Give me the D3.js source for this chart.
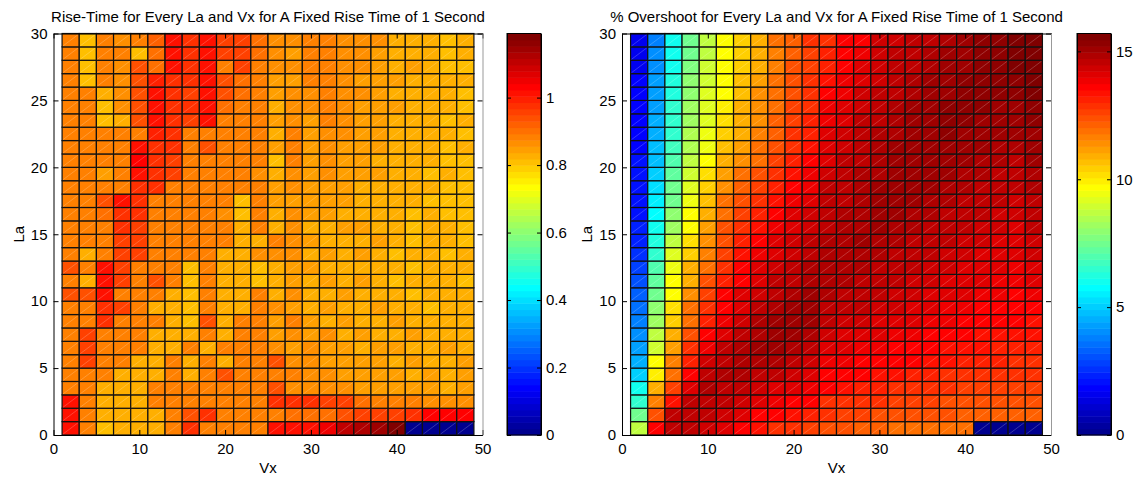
<!DOCTYPE html>
<html>
<head>
<meta charset="utf-8">
<script src="https://cdn.jsdelivr.net/npm/d3@7"></script>
<style>
  body { margin: 0; background: #fff; }
  text { font-family: "Liberation Sans", Arial, Helvetica, sans-serif; }
</style>
</head>
<body>
<div id="wrapper"></div>
<script>
// 1. Data

// cell edges of the pcolor grid
const vxEdges = [1, 3, 5, 7, 9, 11, 13, 15, 17, 19, 21, 23, 25, 27, 29, 31, 33, 35, 37, 39, 41, 43, 45, 47, 49];
const laEdges = [0, 1, 2, 3, 4, 5, 6, 7, 8, 9, 10, 11, 12, 13, 14, 15, 16, 17, 18, 19, 20, 21, 22, 23, 24, 25, 26, 27, 28, 29, 30];

const xTicks = [0, 10, 20, 30, 40, 50];
const yTicks = [0, 5, 10, 15, 20, 25, 30];
const riseTicks = [0, 0.2, 0.4, 0.6, 0.8, 1];
const overshootTicks = [0, 5, 10, 15];

const riseTitle = "Rise-Time for Every La and Vx for A Fixed Rise Time of 1 Second";
const overshootTitle = "% Overshoot for Every La and Vx for A Fixed Rise Time of 1 Second";

// rise time, one row per La cell (La 0 at the bottom), 24 Vx cells each
const riseTime = [
  [1.02,0.89,0.80,0.83,0.83,0.83,0.88,0.97,0.88,0.88,0.88,0.88,1.02,1.01,1.02,1.05,1.10,1.13,1.15,1.19,0,0,0,0],
  [1.02,0.89,0.83,0.83,0.83,0.83,0.88,0.94,0.97,0.88,0.88,0.88,0.89,0.90,0.90,0.91,0.93,0.95,0.95,0.96,0.97,1.03,1.03,1.03],
  [1.02,0.89,0.83,0.83,0.83,0.88,0.88,0.88,0.88,0.88,0.88,0.88,0.97,0.97,0.97,0.96,0.96,0.90,0.89,0.88,0.88,0.87,0.87,0.87],
  [0.89,0.89,0.83,0.83,0.83,0.88,0.88,0.88,0.88,0.88,0.88,0.88,0.94,0.87,0.86,0.87,0.86,0.85,0.85,0.84,0.85,0.84,0.83,0.84],
  [0.89,0.89,0.89,0.83,0.83,0.83,0.88,0.83,0.88,0.94,0.88,0.88,0.88,0.88,0.87,0.86,0.85,0.85,0.84,0.84,0.83,0.84,0.83,0.84],
  [0.89,0.95,0.89,0.89,0.83,0.83,0.88,0.83,0.88,0.83,0.88,0.88,0.94,0.87,0.86,0.85,0.85,0.84,0.84,0.83,0.84,0.83,0.83,0.84],
  [0.89,0.95,0.89,0.89,0.88,0.83,0.83,0.88,0.83,0.88,0.88,0.88,0.86,0.85,0.86,0.84,0.85,0.83,0.84,0.84,0.83,0.83,0.84,0.82],
  [0.89,0.95,0.89,0.89,0.88,0.83,0.83,0.83,0.88,0.83,0.88,0.88,0.85,0.86,0.85,0.86,0.83,0.84,0.83,0.83,0.84,0.82,0.83,0.82],
  [0.89,0.89,0.98,0.89,0.88,0.88,0.83,0.80,0.94,0.83,0.88,0.88,0.84,0.88,0.84,0.83,0.85,0.83,0.82,0.84,0.83,0.82,0.82,0.83],
  [0.89,0.89,0.98,0.95,0.88,0.83,0.83,0.80,0.88,0.83,0.83,0.88,0.86,0.84,0.83,0.85,0.83,0.82,0.84,0.82,0.83,0.81,0.83,0.82],
  [0.94,0.94,1.01,0.89,0.88,0.88,0.83,0.80,0.88,0.83,0.83,0.88,0.83,0.87,0.83,0.83,0.85,0.83,0.82,0.83,0.81,0.83,0.82,0.82],
  [0.89,0.83,1.01,0.95,0.88,0.94,0.88,0.80,0.88,0.83,0.83,0.80,0.83,0.84,0.83,0.85,0.82,0.84,0.82,0.81,0.83,0.82,0.82,0.81],
  [0.94,0.88,1.01,0.95,0.88,0.88,0.88,0.80,0.88,0.83,0.83,0.80,0.83,0.84,0.85,0.83,0.83,0.82,0.83,0.83,0.81,0.82,0.82,0.82],
  [0.89,0.83,0.89,0.95,0.95,0.88,0.88,0.88,0.88,0.83,0.83,0.86,0.86,0.86,0.83,0.84,0.82,0.84,0.82,0.81,0.83,0.82,0.80,0.82],
  [0.89,0.88,0.89,0.95,0.95,0.88,0.88,0.88,0.88,0.88,0.83,0.83,0.88,0.86,0.85,0.83,0.83,0.82,0.84,0.83,0.81,0.82,0.82,0.81],
  [0.89,0.88,0.89,0.98,0.95,0.88,0.88,0.88,0.88,0.88,0.83,0.88,0.83,0.86,0.82,0.83,0.85,0.84,0.82,0.83,0.81,0.83,0.82,0.81],
  [0.89,0.88,0.90,0.98,0.97,0.89,0.88,0.88,0.88,0.87,0.80,0.88,0.83,0.86,0.84,0.84,0.83,0.83,0.82,0.82,0.81,0.82,0.80,0.81],
  [0.89,0.88,0.94,1.02,0.97,0.89,0.88,0.88,0.88,0.88,0.80,0.88,0.84,0.85,0.85,0.84,0.84,0.83,0.82,0.83,0.82,0.81,0.81,0.80],
  [0.89,0.88,0.88,0.88,0.97,0.97,0.89,0.88,0.88,0.88,0.88,0.88,0.85,0.86,0.85,0.85,0.84,0.83,0.83,0.83,0.82,0.82,0.81,0.81],
  [0.89,0.88,0.84,0.88,1.02,0.97,0.95,0.88,0.88,0.88,0.88,0.87,0.83,0.87,0.84,0.86,0.85,0.84,0.84,0.83,0.82,0.81,0.82,0.81],
  [0.89,0.88,0.88,0.88,1.03,0.97,0.95,0.89,0.88,0.89,0.88,0.88,0.80,0.89,0.85,0.86,0.85,0.84,0.83,0.82,0.82,0.82,0.81,0.81],
  [0.89,0.88,0.88,0.88,1.02,0.97,0.97,0.89,0.94,0.89,0.88,0.88,0.84,0.89,0.84,0.87,0.85,0.84,0.84,0.83,0.82,0.82,0.81,0.82],
  [0.88,0.88,0.88,0.88,0.89,1.00,0.97,0.89,0.89,0.89,0.89,0.88,0.83,0.89,0.85,0.87,0.86,0.84,0.85,0.83,0.83,0.82,0.82,0.81],
  [0.88,0.88,0.81,0.83,0.94,1.01,0.97,0.95,1.01,0.89,0.89,0.88,0.84,0.87,0.85,0.88,0.86,0.85,0.84,0.83,0.82,0.82,0.81,0.82],
  [0.88,0.88,0.81,0.87,0.94,1.01,0.97,0.97,1.01,0.90,0.89,0.89,0.83,0.86,0.86,0.88,0.87,0.85,0.84,0.84,0.83,0.82,0.82,0.81],
  [0.88,0.88,0.83,0.87,0.94,1.01,0.97,0.95,1.01,0.94,0.90,0.89,0.85,0.86,0.87,0.88,0.86,0.86,0.84,0.83,0.83,0.83,0.82,0.81],
  [0.88,0.80,0.88,0.87,0.94,1.00,0.97,0.97,1.02,0.94,0.90,0.89,0.85,0.85,0.88,0.89,0.87,0.85,0.85,0.84,0.83,0.82,0.82,0.82],
  [0.88,0.80,0.89,0.87,0.94,0.90,1.01,0.97,1.02,0.89,0.95,0.89,0.86,0.86,0.88,0.89,0.86,0.86,0.84,0.83,0.84,0.82,0.81,0.81],
  [0.88,0.80,0.88,0.88,0.81,0.90,1.02,0.97,1.02,0.95,0.95,0.90,0.86,0.85,0.89,0.88,0.87,0.86,0.85,0.83,0.83,0.82,0.81,0.82],
  [0.88,0.80,0.88,0.86,0.88,0.92,1.02,0.97,1.02,0.96,0.95,0.90,0.86,0.86,0.89,0.89,0.87,0.86,0.86,0.83,0.83,0.83,0.80,0.82]
];

// % overshoot, one column per Vx cell (Vx 1-3 first), 30 La cells each from La 0 upward
const overshootByVx = [
  [8.6,7.5,6.6,5.9,5.0,4.6,4.3,4.0,3.7,3.5,3.3,3.0,2.8,2.6,2.4,2.3,2.2,2.1,2.1,2.0,2.0,1.9,1.9,1.9,1.8,1.8,1.8,1.7,1.7,1.7],
  [13.5,12.4,11.6,10.8,10.0,9.6,8.9,8.6,8.2,7.85,7.6,7.2,7.0,6.6,6.2,5.9,5.7,5.5,5.3,5.1,4.9,4.7,4.6,4.5,4.4,4.3,4.2,4.1,4.0,3.9],
  [14.7,14.5,13.3,12.6,12.0,11.6,11.2,10.8,10.5,10.2,9.8,9.6,9.4,9.2,8.8,8.2,7.85,7.6,7.4,7.2,7.0,6.8,6.6,6.5,6.4,6.3,6.2,6.1,6.0,5.9],
  [14.6,14.7,14.5,14.1,13.5,13.1,12.8,12.4,12.0,11.8,11.4,11.0,10.8,10.5,10.2,9.8,9.6,9.4,9.2,9.0,8.6,8.5,8.4,8.2,8.1,8.0,7.85,7.8,7.6,7.4],
  [14.3,14.5,14.7,14.8,14.6,14.3,13.9,13.5,13.1,12.8,12.6,12.3,12.0,11.7,11.5,11.2,10.9,10.7,10.4,10.2,9.7,9.5,9.4,9.3,9.2,9.1,9.0,8.9,8.8,8.6],
  [14.1,14.3,14.5,14.7,14.9,14.7,14.5,14.2,13.9,13.7,13.5,13.2,13.0,12.7,12.5,12.3,12.0,11.8,11.5,11.2,10.8,10.6,10.4,10.2,10.0,9.8,9.8,9.7,9.8,9.6],
  [13.7,14.1,14.4,14.7,14.9,14.9,14.8,14.6,14.4,14.2,14.0,13.7,13.5,13.3,13.1,13.0,12.7,12.4,12.1,11.8,11.4,11.2,11.0,10.9,10.8,10.7,10.6,10.5,10.4,10.5],
  [13.3,13.7,14.1,14.4,14.7,14.9,15.0,14.9,14.8,14.6,14.4,14.2,14.0,13.8,13.6,13.4,13.1,12.9,12.6,12.3,12.0,11.8,11.6,11.5,11.4,11.3,11.2,11.0,11.0,10.9],
  [13.0,13.5,13.9,14.2,14.5,14.8,15.0,15.1,15.0,14.8,14.7,14.5,14.4,14.2,14.0,13.9,13.6,13.4,13.1,12.9,12.6,12.4,12.2,12.1,12.0,11.9,11.8,11.7,11.7,11.8],
  [12.8,13.3,13.7,14.0,14.3,14.7,14.9,15.1,15.1,15.0,14.8,14.7,14.6,14.4,14.3,14.2,14.0,13.8,13.6,13.4,13.1,13.0,12.8,12.7,12.6,12.5,12.4,12.3,12.2,12.2],
  [12.6,13.1,13.5,13.8,14.1,14.4,14.7,14.9,15.0,15.1,15.0,14.9,14.8,14.6,14.5,14.4,14.3,14.1,13.9,13.8,13.6,13.4,13.2,13.1,13.0,12.9,12.8,12.7,12.7,12.8],
  [12.4,12.8,13.0,13.5,13.7,13.9,14.1,14.3,14.5,14.7,14.8,14.9,14.9,14.9,14.8,14.7,14.7,14.6,14.5,14.4,14.2,14.1,14.0,13.9,13.8,13.6,13.3,13.2,13.1,13.0],
  [12.4,12.7,13.0,13.3,13.6,13.8,14.0,14.2,14.4,14.6,14.7,14.8,14.9,14.9,14.9,14.8,14.8,14.7,14.7,14.6,14.5,14.4,14.3,14.2,14.1,13.9,13.8,13.7,13.6,13.5],
  [12.2,12.6,12.9,13.2,13.5,13.7,13.9,14.1,14.3,14.5,14.6,14.7,14.8,14.9,15.0,14.9,14.9,14.9,14.8,14.8,14.7,14.6,14.6,14.5,14.4,14.3,14.1,14.0,13.9,13.7],
  [12.1,12.5,12.8,13.1,13.4,13.6,13.8,14.0,14.2,14.4,14.5,14.6,14.7,14.8,14.9,15.0,15.0,15.0,15.0,14.9,14.9,14.8,14.8,14.7,14.6,14.5,14.4,14.4,14.3,14.3],
  [12.0,12.4,12.7,13.0,13.3,13.5,13.7,13.9,14.1,14.3,14.4,14.5,14.6,14.7,14.8,14.9,15.0,15.0,15.1,15.1,15.0,15.0,14.9,14.9,14.8,14.7,14.6,14.5,14.5,14.4],
  [12.0,12.3,12.6,12.9,13.2,13.5,13.6,13.8,14.0,14.2,14.3,14.4,14.5,14.6,14.7,14.8,14.9,15.0,15.1,15.1,15.2,15.1,15.1,15.0,15.0,14.9,14.8,14.7,14.6,14.5],
  [12.0,12.3,12.6,12.8,13.1,13.4,13.5,13.7,13.9,14.1,14.2,14.3,14.4,14.5,14.6,14.7,14.8,14.9,15.0,15.1,15.2,15.2,15.2,15.2,15.1,15.1,15.0,14.9,14.8,14.7],
  [12.0,12.3,12.5,12.8,13.0,13.3,13.4,13.6,13.8,13.9,14.1,14.2,14.3,14.4,14.5,14.6,14.7,14.8,14.9,15.0,15.1,15.2,15.3,15.3,15.3,15.2,15.2,15.1,15.0,14.9],
  [11.8,12.2,12.5,12.7,13.0,13.2,13.3,13.5,13.7,13.8,14.0,14.1,14.2,14.3,14.4,14.5,14.6,14.7,14.8,14.9,15.0,15.1,15.2,15.3,15.3,15.3,15.3,15.2,15.2,15.1],
  [0,12.2,12.4,12.7,12.9,13.1,13.3,13.4,13.6,13.7,13.9,14.0,14.1,14.2,14.3,14.4,14.5,14.6,14.7,14.8,14.9,15.0,15.1,15.2,15.3,15.4,15.4,15.4,15.3,15.3],
  [0,12.2,12.4,12.6,12.9,13.1,13.2,13.4,13.5,13.7,13.8,13.9,14.0,14.1,14.2,14.3,14.4,14.5,14.6,14.7,14.8,14.9,15.0,15.1,15.2,15.3,15.4,15.4,15.4,15.4],
  [0,12.2,12.4,12.6,12.8,13.0,13.1,13.3,13.5,13.6,13.7,13.8,13.9,14.0,14.1,14.2,14.3,14.4,14.5,14.6,14.7,14.8,15.0,15.1,15.2,15.3,15.4,15.5,15.5,15.5],
  [0,12.2,12.4,12.6,12.8,13.0,13.1,13.3,13.4,13.6,13.8,14.0,14.2,14.3,14.4,14.5,14.6,14.7,14.8,14.9,15.0,15.1,15.2,15.3,15.4,15.5,15.5,15.7,15.6,15.6]
];

// MATLAB jet(64)
const clamp01 = (v) => Math.max(0, Math.min(1, v));
const jet = d3.range(1, 65).map((k) => {
  const x = k / 64;
  return d3.rgb(
    255 * clamp01(1.5 - Math.abs(4 * x - 3)),
    255 * clamp01(1.5 - Math.abs(4 * x - 2)),
    255 * clamp01(1.5 - Math.abs(4 * x - 1))
  ).formatHex();
});

// 2. Dimensions

const dimensions = {
  width: 1135,
  height: 482,
  plotTop: 33.5,
  plotBottom: 435,
  plotWidth: 429,
  colorbarWidth: 34,
  fontSize: 15,
};

// 3. Draw canvas

const wrapper = d3
  .select("#wrapper")
  .append("svg")
  .attr("width", dimensions.width)
  .attr("height", dimensions.height);

function drawPanel({ left, colorbarLeft, title, cells, cTicks }) {
  // 4. Scales

  const xScale = d3
    .scaleLinear()
    .domain([0, 50])
    .range([left, left + dimensions.plotWidth]);

  const yScale = d3
    .scaleLinear()
    .domain([0, 30])
    .range([dimensions.plotBottom, dimensions.plotTop]);

  const cDomain = d3.extent(cells, (d) => d.value);
  const colorScale = d3.scaleQuantize().domain(cDomain).range(jet);

  const panel = wrapper.append("g");

  // 5. Draw data

  const cellGroups = panel
    .append("g")
    .selectAll("g")
    .data(cells)
    .join("g");

  cellGroups
    .append("rect")
    .attr("x", (d) => xScale(d.x0))
    .attr("y", (d) => yScale(d.y1))
    .attr("width", (d) => xScale(d.x1) - xScale(d.x0))
    .attr("height", (d) => yScale(d.y0) - yScale(d.y1))
    .attr("fill", (d) => colorScale(d.value))
    .attr("stroke", "#111")
    .attr("stroke-width", 1.2);

  // faint triangle seam of the original render
  cellGroups
    .append("line")
    .attr("x1", (d) => xScale(d.x0) + 1)
    .attr("y1", (d) => yScale(d.y0) - 1)
    .attr("x2", (d) => xScale(d.x1) - 1)
    .attr("y2", (d) => yScale(d.y1) + 1)
    .attr("stroke", "rgba(255,255,255,0.35)")
    .attr("stroke-width", 0.6);

  // 6. Peripherals

  const styleAxis = (g) => {
    g.attr("font-size", dimensions.fontSize)
      .attr("font-family", '"Liberation Sans", Arial, sans-serif');
    g.selectAll("text").attr("fill", "#000");
    g.selectAll("line").attr("stroke", "#000");
  };

  panel
    .append("g")
    .attr("transform", `translate(0, ${dimensions.plotBottom})`)
    .call(d3.axisBottom(xScale).tickValues(xTicks).tickSize(-5).tickSizeOuter(0).tickPadding(8))
    .call(styleAxis);

  panel
    .append("g")
    .attr("transform", `translate(0, ${dimensions.plotTop})`)
    .call(d3.axisTop(xScale).tickValues(xTicks).tickSize(-5).tickSizeOuter(0).tickFormat(""))
    .call(styleAxis);

  panel
    .append("g")
    .attr("transform", `translate(${left}, 0)`)
    .call(d3.axisLeft(yScale).tickValues(yTicks).tickSize(-5).tickSizeOuter(0).tickPadding(6))
    .call(styleAxis);

  const rightAxis = panel
    .append("g")
    .attr("transform", `translate(${left + dimensions.plotWidth}, 0)`)
    .call(d3.axisRight(yScale).tickValues(yTicks).tickSize(-5).tickSizeOuter(0).tickFormat(""))
    .call(styleAxis);
  rightAxis.select(".domain").attr("stroke", "#999");

  panel
    .append("text")
    .attr("x", left + dimensions.plotWidth / 2)
    .attr("y", 22)
    .attr("text-anchor", "middle")
    .attr("font-size", dimensions.fontSize)
    .text(title);

  panel
    .append("text")
    .attr("x", left + dimensions.plotWidth / 2)
    .attr("y", 473)
    .attr("text-anchor", "middle")
    .attr("font-size", dimensions.fontSize)
    .text("Vx");

  panel
    .append("text")
    .attr("transform", `translate(${left - 30}, ${(dimensions.plotTop + dimensions.plotBottom) / 2}) rotate(-90)`)
    .attr("text-anchor", "middle")
    .attr("font-size", dimensions.fontSize)
    .text("La");

  // colorbar
  const cScale = d3
    .scaleLinear()
    .domain(cDomain)
    .range([dimensions.plotBottom, dimensions.plotTop]);
  const step = (cDomain[1] - cDomain[0]) / jet.length;

  panel
    .append("g")
    .selectAll("rect")
    .data(jet)
    .join("rect")
    .attr("x", colorbarLeft)
    .attr("y", (d, i) => cScale(cDomain[0] + (i + 1) * step))
    .attr("width", dimensions.colorbarWidth)
    .attr("height", (d, i) => cScale(cDomain[0] + i * step) - cScale(cDomain[0] + (i + 1) * step) + 0.5)
    .attr("fill", (d) => d);

  panel
    .append("g")
    .attr("transform", `translate(${colorbarLeft + dimensions.colorbarWidth}, 0)`)
    .call(d3.axisRight(cScale).tickValues(cTicks).tickSize(-4).tickSizeOuter(0).tickPadding(5).tickFormat(d3.format("~g")))
    .call(styleAxis);

  panel
    .append("g")
    .attr("transform", `translate(${colorbarLeft}, 0)`)
    .call(d3.axisLeft(cScale).tickValues(cTicks).tickSize(-4).tickSizeOuter(0).tickFormat(""))
    .call(styleAxis);

  panel
    .append("rect")
    .attr("x", colorbarLeft)
    .attr("y", dimensions.plotTop)
    .attr("width", dimensions.colorbarWidth)
    .attr("height", dimensions.plotBottom - dimensions.plotTop)
    .attr("fill", "none")
    .attr("stroke", "#000");
}

// build cell lists from the arrays
const riseCells = [];
const overshootCells = [];
d3.range(laEdges.length - 1).forEach((i) => {
  d3.range(vxEdges.length - 1).forEach((j) => {
    const cell = { x0: vxEdges[j], x1: vxEdges[j + 1], y0: laEdges[i], y1: laEdges[i + 1] };
    riseCells.push({ ...cell, value: riseTime[i][j] });
    overshootCells.push({ ...cell, value: overshootByVx[j][i] });
  });
});

drawPanel({ left: 53.5, colorbarLeft: 507, title: riseTitle, cells: riseCells, cTicks: riseTicks });
drawPanel({ left: 622, colorbarLeft: 1077, title: overshootTitle, cells: overshootCells, cTicks: overshootTicks });
</script>
</body>
</html>
